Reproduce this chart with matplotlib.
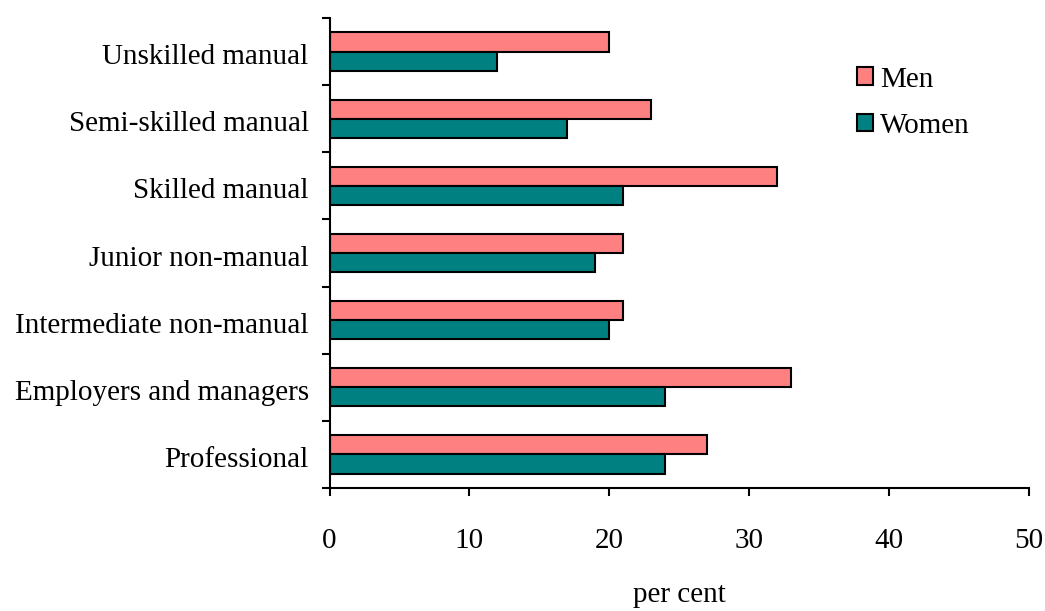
import matplotlib
matplotlib.use("Agg")
import matplotlib.pyplot as plt
import matplotlib.transforms as mtransforms
import numpy as np

categories = ["Professional", "Employers and managers", "Intermediate non-manual",
              "Junior non-manual", "Skilled manual", "Semi-skilled manual", "Unskilled manual"]
men = [27, 33, 21, 21, 32, 23, 20]
women = [24, 24, 20, 19, 21, 17, 12]
xticks = [0, 10, 20, 30, 40, 50]

plt.rcParams['font.family'] = ['Liberation Serif', 'DejaVu Serif']
FS = 21

fig = plt.figure(figsize=(10.45, 6.11), dpi=100)
ax = fig.add_axes([329.5/1045, 1-488/611, (1029-329.5)/1045, (488-18)/611])

y = np.arange(len(categories))
h = 0.285
ax.barh(y + h/2, men, height=h, color="#FF8080", edgecolor="black", linewidth=1.5, label="Men")
ax.barh(y - h/2, women, height=h, color="#008080", edgecolor="black", linewidth=1.5, label="Women")

ax.set_xlim(0, 50)
ax.set_ylim(-0.5, len(categories) - 0.5)
ax.set_xticks(xticks)
ax.set_xticklabels([str(t) for t in xticks], fontsize=FS)
ax.set_yticks(y)
ax.set_yticklabels(categories, fontsize=FS, va='center')
ax.set_yticks(np.arange(len(categories) + 1) - 0.5, minor=True)
ax.tick_params(axis='y', which='major', length=0, pad=15)
ax.tick_params(axis='y', which='minor', length=6, width=1.5, direction='out')
ax.tick_params(axis='x', which='major', length=6, width=1.5, direction='out', pad=23)

shift = mtransforms.ScaledTranslation(0, -0.055, fig.dpi_scale_trans)
for lbl in ax.get_yticklabels():
    lbl.set_transform(lbl.get_transform() + shift)

for s in ['top', 'right']:
    ax.spines[s].set_visible(False)
for s in ['left', 'bottom']:
    ax.spines[s].set_linewidth(1.5)

ax.set_xlabel("per cent", fontsize=FS, labelpad=20)

leg = ax.legend(loc='upper left', bbox_to_anchor=(0.795, 0.934), bbox_transform=fig.transFigure,
                frameon=False, fontsize=FS,
                handlelength=0.55, handleheight=0.55, handletextpad=0.25, labelspacing=0.69)

fig.savefig("out.png", dpi=100)
